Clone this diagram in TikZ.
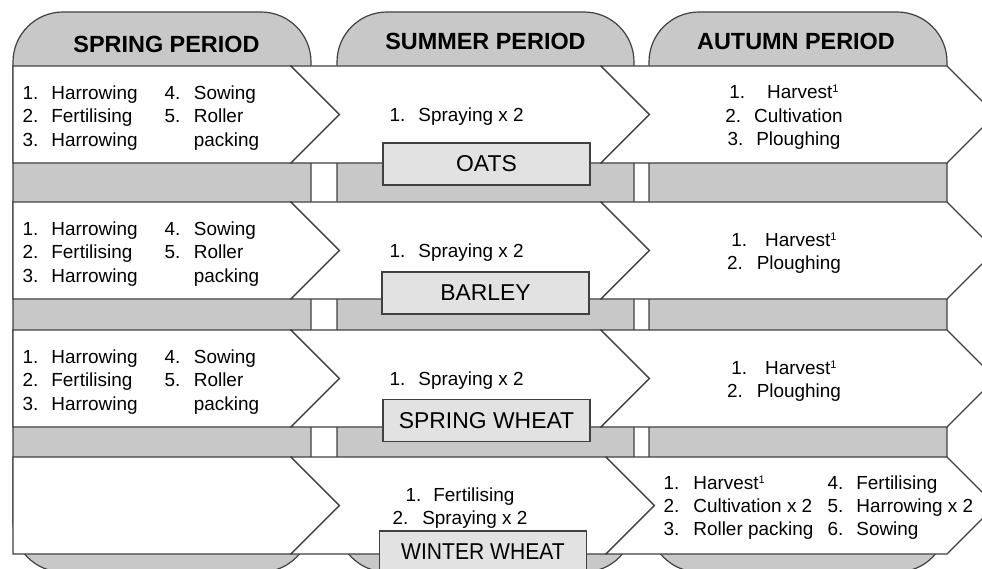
\documentclass[tikz,border=0pt]{standalone}
\usepackage{fontspec}
\usepackage{graphicx}
\setmainfont{Liberation Sans}
\definecolor{colgray}{HTML}{C8C8C8}
\definecolor{boxgray}{HTML}{E2E2E2}
\definecolor{edgegray}{HTML}{404040}
\newcommand\numlist[2][13bp]{\begin{tabular}[t]{@{}l@{\hspace{#1}}l@{}}#2\end{tabular}}
\newcommand\ctrlist[1]{\begin{tabular}[t]{@{}c@{}}#1\end{tabular}}
\newcommand\supone{\raisebox{6bp}{\fontsize{11}{12}\selectfont 1}}
\newcommand\chevrow[3]{%
  \pgfmathsetmacro\mymid{(#1+#2)/2}%
  \pgfmathsetmacro\myh{(#2-#1)/2}%
  \draw[band] (13,#1) -- (291,#1) -- ({291+\myh},\mymid) -- (291,#2) -- (13,#2) -- cycle;
  \draw[band] (291,#1) -- (#3,#1) -- ({#3+\myh},\mymid) -- (#3,#2) -- (291,#2) -- ({291+\myh},\mymid) -- cycle;
  \draw[band] (#3,#1) -- (947,#1) -- ({947+\myh},\mymid) -- (947,#2) -- (#3,#2) -- ({#3+\myh},\mymid) -- cycle;
}
\begin{document}
\begin{tikzpicture}[x=1bp,y=-1bp,line width=1.2bp,
  font=\fontsize{19}{23.5}\selectfont,
  colbox/.style={draw=edgegray,fill=colgray,rounded corners=50bp},
  band/.style={draw=edgegray,fill=white,line join=miter},
  txt/.style={inner sep=0pt,anchor=base west,text=black},
  ctxt/.style={inner sep=0pt,anchor=base,text=black},
  head/.style={inner sep=0pt,anchor=base,text=black,font=\fontsize{23.5}{28}\selectfont\bfseries},
  crop/.style={draw=edgegray,fill=boxgray,inner sep=0pt,minimum width=207bp,minimum height=42bp,text=black,font=\fontsize{23}{27}\selectfont}]
\useasboundingbox (0,0) rectangle (982,569);
\clip (0,0) rectangle (982,569);
\fill[white] (0,0) rectangle (982,569);
% columns
\draw[colbox] (13,12) rectangle (311,572);
\draw[colbox] (337,12) rectangle (634,572);
\draw[colbox] (649,12) rectangle (947,572);
% headers
\node[head] (hspring) at (166.5,53) {SPRING PERIOD};
\node[head] (hsummer) at (485.5,50) {SUMMER PERIOD};
\node[head] (hautumn) at (796,50) {AUTUMN PERIOD};
% chevron rows
\chevrow{66}{163}{601}
\chevrow{202}{299}{601}
\chevrow{330}{427}{601}
\chevrow{457}{554}{606}
% row 1: oats
\node[txt] (r1a) at (22,99.5) {\numlist{1.&Harrowing\\2.&Fertilising\\3.&Harrowing}};
\node[txt] (r1b) at (164,99.5) {\numlist[13.5bp]{4.&Sowing\\5.&Roller\\&packing}};
\node[txt] (r1c) at (389,121.5) {\numlist{1.&Spraying x 2}};
\node[ctxt] (r1d) at (784,99) {\ctrlist{1.\hspace{22bp}Harvest\supone\\2.\hspace{13bp}Cultivation\\3.\hspace{13bp}Ploughing}};
% row 2: barley
\node[txt] (r2a) at (22,235.5) {\numlist{1.&Harrowing\\2.&Fertilising\\3.&Harrowing}};
\node[txt] (r2b) at (164,235.5) {\numlist[13.5bp]{4.&Sowing\\5.&Roller\\&packing}};
\node[txt] (r2c) at (389,257.5) {\numlist{1.&Spraying x 2}};
\node[ctxt] (r2d) at (784,246.5) {\ctrlist{1.\hspace{18bp}Harvest\supone\\2.\hspace{14bp}Ploughing}};
% row 3: spring wheat
\node[txt] (r3a) at (22,363.5) {\numlist{1.&Harrowing\\2.&Fertilising\\3.&Harrowing}};
\node[txt] (r3b) at (164,363.5) {\numlist[13.5bp]{4.&Sowing\\5.&Roller\\&packing}};
\node[txt] (r3c) at (389,385.5) {\numlist{1.&Spraying x 2}};
\node[ctxt] (r3d) at (784,374.5) {\ctrlist{1.\hspace{18bp}Harvest\supone\\2.\hspace{14bp}Ploughing}};
% row 4: winter wheat
\node[ctxt] (r4c) at (460,501.5) {\ctrlist{1.\hspace{12bp}Fertilising\\2.\hspace{14bp}Spraying x 2}};
\node[txt] (r4d) at (663,489) {\numlist[14bp]{1.&Harvest\supone\\2.&Cultivation x 2\\3.&Roller packing}};
\node[txt] (r4e) at (827,489) {\numlist{4.&Fertilising\\5.&Harrowing x 2\\6.&Sowing}};
% crop labels
\node[crop] (oats) at (486.5,164) {OATS};
\node[crop] (barley) at (485.5,293) {BARLEY};
\node[crop] (swheat) at (486.5,420.5) {SPRING WHEAT};
\node[crop] (wwheat) at (483,552) {\scalebox{0.92}[1]{WINTER WHEAT}};
\end{tikzpicture}
\end{document}
